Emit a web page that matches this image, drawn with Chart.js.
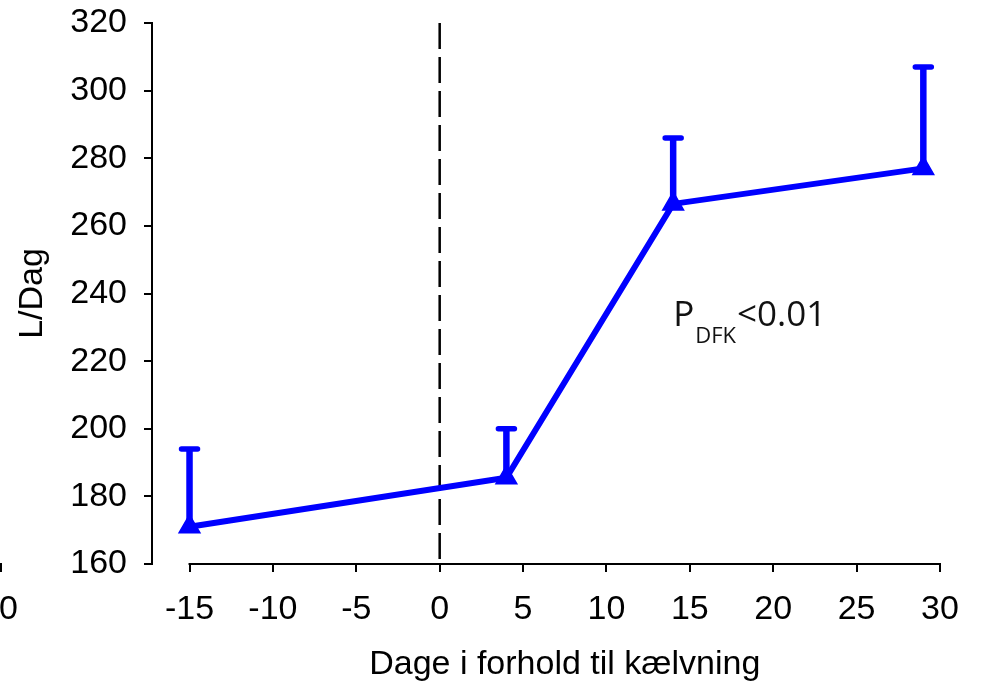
<!DOCTYPE html>
<html>
<head>
<meta charset="utf-8">
<title>L/Dag</title>
<script src="https://cdn.jsdelivr.net/npm/chart.js@4.4.1/dist/chart.umd.min.js"></script>
<style>
    html, body { margin: 0; padding: 0; background: #fff; }
    #wrap { width: 981px; height: 683px; }
</style>
</head>
<body>
<div id="wrap"><canvas id="waterChart" width="981" height="683"></canvas></div>
<script>
    // Vandoptag omkring kælvning
    const days = [-15, 4, 14, 29];
    const meanIntake = [171, 185.5, 266.5, 277];
    const upperSd = [194, 200, 286, 307];
    const xTickValues = [-15, -10, -5, 0, 5, 10, 15, 20, 25, 30];

    const fontFamily = '"Liberation Sans", Arial, sans-serif';
    const axisFont = { family: fontFamily, size: 34 };
    const blue = '#0000ff';

    // Error bars (upper only), dashed calving line and the custom x axis line
    const overlayPlugin = {
        id: 'overlay',
        beforeDatasetsDraw(chart) {
            const { ctx, chartArea, scales: { x, y } } = chart;
            ctx.save();

            // calving day
            ctx.strokeStyle = '#000';
            ctx.lineWidth = 2.5;
            ctx.setLineDash([26, 8]);
            const x0 = x.getPixelForValue(0);
            ctx.beginPath();
            ctx.moveTo(x0, chartArea.top);
            ctx.lineTo(x0, chartArea.bottom);
            ctx.stroke();
            ctx.setLineDash([]);

            // x axis runs only from -15 to 30
            ctx.lineWidth = 2;
            ctx.beginPath();
            ctx.moveTo(x.getPixelForValue(xTickValues[0]) - 1, chartArea.bottom);
            ctx.lineTo(x.getPixelForValue(xTickValues[xTickValues.length - 1]) + 1, chartArea.bottom);
            ctx.stroke();

            // error bars
            ctx.strokeStyle = blue;
            days.forEach((d, i) => {
                const px = x.getPixelForValue(d);
                const pMean = y.getPixelForValue(meanIntake[i]);
                const pTop = y.getPixelForValue(upperSd[i]);
                ctx.lineWidth = 6.5;
                ctx.lineCap = 'butt';
                ctx.beginPath();
                ctx.moveTo(px, pMean);
                ctx.lineTo(px, pTop);
                ctx.stroke();
                ctx.lineWidth = 5.5;
                ctx.lineCap = 'round';
                ctx.beginPath();
                ctx.moveTo(px - 8, pTop);
                ctx.lineTo(px + 8, pTop);
                ctx.stroke();
            });
            ctx.restore();
        },
        afterDraw(chart) {
            const { ctx, scales: { x, y } } = chart;
            ctx.save();
            ctx.fillStyle = '#111';
            ctx.textBaseline = 'alphabetic';
            ctx.textAlign = 'left';

            // P_DFK<0.01
            let tx = x.getPixelForValue(14);
            const ty = y.getPixelForValue(230.5);
            ctx.font = '35px "Open Sans", sans-serif';
            ctx.fillText('P', tx, ty);
            tx += ctx.measureText('P').width + 1;
            ctx.font = '22px "Open Sans", sans-serif';
            ctx.fillText('DFK', tx, ty + 17);
            tx += ctx.measureText('DFK').width + 1;
            ctx.font = '35px "Open Sans", sans-serif';
            ctx.fillText('<0.01', tx, ty);

            // x axis title, centred under the -15..30 axis line
            ctx.fillStyle = '#000';
            ctx.font = '34px ' + fontFamily;
            ctx.textAlign = 'center';
            ctx.textBaseline = 'middle';
            const mid = (x.getPixelForValue(xTickValues[0]) + x.getPixelForValue(xTickValues[xTickValues.length - 1])) / 2;
            ctx.fillText('Dage i forhold til kælvning', mid, 665);

            // leftover tick and label at the left edge
            ctx.textAlign = 'right';
            ctx.fillText('0', 18, 610);
            ctx.fillRect(0, 563, 2, 9);
            ctx.restore();
        }
    };

    const ctx = document.getElementById('waterChart').getContext('2d');
    const waterChart = new Chart(ctx, {
        type: 'line',
        data: {
            labels: days,
            datasets: [{
                data: days.map((d, i) => ({ x: d, y: meanIntake[i] })),
                borderColor: blue,
                backgroundColor: blue,
                borderWidth: 6,
                pointStyle: 'triangle',
                pointRadius: 12,
                pointBorderWidth: 1.5,
                pointBackgroundColor: blue,
                pointBorderColor: blue,
                tension: 0,
                clip: false
            }]
        },
        options: {
            responsive: false,
            animation: false,
            devicePixelRatio: 1,
            layout: {
                padding: { top: 23, right: 41, left: 0, bottom: 0 }
            },
            scales: {
                x: {
                    type: 'linear',
                    min: -17.25,
                    max: 30,
                    afterBuildTicks: (scale) => {
                        scale.ticks = xTickValues.map(v => ({ value: v }));
                    },
                    afterFit: (scale) => { scale.height = 119; },
                    border: { display: false },
                    grid: {
                        drawOnChartArea: false,
                        drawTicks: true,
                        tickLength: 8,
                        color: '#000',
                        lineWidth: 2
                    },
                    ticks: {
                        color: '#000',
                        font: axisFont,
                        padding: 17,
                        maxRotation: 0,
                        autoSkip: false
                    }
                },
                y: {
                    min: 160,
                    max: 320,
                    afterFit: (scale) => {
                        scale.width = 152;
                        scale.paddingTop = 0;
                        scale.paddingBottom = 0;
                    },
                    border: { display: true, color: '#000', width: 2 },
                    grid: {
                        drawOnChartArea: false,
                        drawTicks: true,
                        tickLength: 8,
                        color: '#000',
                        lineWidth: 2
                    },
                    ticks: {
                        stepSize: 20,
                        color: '#000',
                        font: axisFont,
                        padding: 17
                    },
                    title: {
                        display: true,
                        text: 'L/Dag',
                        color: '#000',
                        font: axisFont,
                        padding: { top: 12, bottom: 0 }
                    }
                }
            },
            plugins: {
                legend: { display: false },
                tooltip: { enabled: false }
            }
        },
        plugins: [overlayPlugin]
    });
</script>
</body>
</html>
